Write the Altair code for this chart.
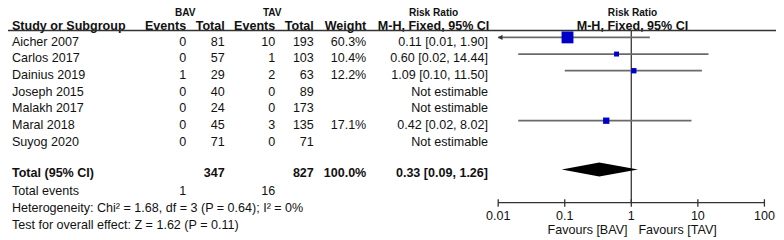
import altair as alt
import pandas as pd

# ---------------- data ----------------
studies = ["Aicher 2007", "Carlos 2017", "Dainius 2019", "Joseph 2015",
           "Malakh 2017", "Maral 2018", "Suyog 2020"]
bav_events = [0, 0, 1, 0, 0, 0, 0]
bav_total = [81, 57, 29, 40, 24, 45, 71]
tav_events = [10, 1, 2, 0, 0, 3, 0]
tav_total = [193, 103, 63, 89, 173, 135, 71]
weights = [60.3, 10.4, 12.2, None, None, 17.1, None]
rr = [0.11, 0.60, 1.09, None, None, 0.42, None]
ci_low = [0.01, 0.02, 0.10, None, None, 0.02, None]
ci_high = [1.90, 14.44, 11.50, None, None, 8.02, None]

total_bav = 347
total_tav = 827
total_weight = 100.0
total_rr = 0.33
total_low = 0.09
total_high = 1.26
total_events_bav = 1
total_events_tav = 16
heterogeneity = "Heterogeneity: Chi\u00b2 = 1.68, df = 3 (P = 0.64); I\u00b2 = 0%"
overall_effect = "Test for overall effect: Z = 1.62 (P = 0.11)"

tick_values = [0.01, 0.1, 1, 10, 100]
tick_labels = ["0.01", "0.1", "1", "10", "100"]
favours_left = "Favours [BAV]"
favours_right = "Favours [TAV]"

# ---------------- layout / style ----------------
FONT = "Liberation Sans"
TXT = "#111111"
FS = 12.7
FS_TOP = 10.2
ROW_HDR0, ROW_HDR1 = -1.723, -0.974
ROW_TOTAL, ROW_EVENTS, ROW_HET, ROW_TEST = 7.9, 8.97, 10.0, 11.02
FOREST_DY = -4.5
HDR_LINE_Y = 29.5
AXIS_Y = 203.5
COLS = {
    "study": (12, "left"), "be": (188, "right"), "bt": (227, "right"),
    "te": (278, "right"), "tt": (317, "right"), "wt": (370, "right"),
    "rr": (493, "right"), "bavhdr": (187, "center"), "tavhdr": (275, "center"),
    "rrhdr": (438, "center"), "plothdr": (639, "center"),
}

yscale = alt.Scale(domain=[0, 6], range=[41, 142], zero=False, nice=False)
xscale = alt.Scale(type="log", domain=[0.01, 100], range=[503.3, 772.3], nice=False)


def fmt_rr(r, lo, hi):
    if r is None:
        return "Not estimable"
    return f"{r:.2f} [{lo:.2f}, {hi:.2f}]"


# ---------------- table cells ----------------
cells = []
def add(row, col, text, bold=False, size=FS):
    cells.append({"row": row, "col": col, "text": text, "bold": bold, "size": size})

add(ROW_HDR0, "bavhdr", "BAV", True, FS_TOP)
add(ROW_HDR0, "tavhdr", "TAV", True, FS_TOP)
add(ROW_HDR0, "rrhdr", "Risk Ratio", True, FS_TOP)
add(ROW_HDR0, "plothdr", "Risk Ratio", True, FS_TOP)
add(ROW_HDR1, "study", "Study or Subgroup", True)
add(ROW_HDR1, "be", "Events", True)
add(ROW_HDR1, "bt", "Total", True)
add(ROW_HDR1, "te", "Events", True)
add(ROW_HDR1, "tt", "Total", True)
add(ROW_HDR1, "wt", "Weight", True)
add(ROW_HDR1, "rrhdr", "M-H, Fixed, 95% CI", True)
add(ROW_HDR1, "plothdr", "M-H, Fixed, 95% CI", True)
for i, s in enumerate(studies):
    add(i, "study", s)
    add(i, "be", str(bav_events[i]))
    add(i, "bt", str(bav_total[i]))
    add(i, "te", str(tav_events[i]))
    add(i, "tt", str(tav_total[i]))
    if weights[i] is not None:
        add(i, "wt", f"{weights[i]:.1f}%")
    add(i, "rr", fmt_rr(rr[i], ci_low[i], ci_high[i]))
add(ROW_TOTAL, "study", "Total (95% CI)", True)
add(ROW_TOTAL, "bt", str(total_bav), True)
add(ROW_TOTAL, "tt", str(total_tav), True)
add(ROW_TOTAL, "wt", f"{total_weight:.1f}%", True)
add(ROW_TOTAL, "rr", fmt_rr(total_rr, total_low, total_high), True)
add(ROW_EVENTS, "study", "Total events")
add(ROW_EVENTS, "be", str(total_events_bav))
add(ROW_EVENTS, "te", str(total_events_tav))
add(ROW_HET, "study", heterogeneity)
add(ROW_TEST, "study", overall_effect)
cells_df = pd.DataFrame(cells)

layers = []
for (col, bold, size), sub in cells_df.groupby(["col", "bold", "size"]):
    x, align = COLS[col]
    layers.append(
        alt.Chart(sub).mark_text(
            align=align, baseline="middle", font=FONT, fontSize=float(size),
            fontWeight="bold" if bold else "normal", color=TXT,
        ).encode(
            x=alt.value(x),
            y=alt.Y("row:Q", scale=yscale, axis=None),
            text="text:N",
        )
    )

# ---------------- forest plot ----------------
one = pd.DataFrame({"a": [0]})
# header rule
layers.append(alt.Chart(one).mark_rule(color="#333333", strokeWidth=1.5).encode(
    x=alt.value(0), x2=alt.value(784), y=alt.value(HDR_LINE_Y)))

# line of no effect
layers.append(alt.Chart(pd.DataFrame({"v": [1.0]})).mark_rule(color="#444444", strokeWidth=1.4).encode(
    x=alt.X("v:Q", scale=xscale, axis=None), y=alt.value(HDR_LINE_Y), y2=alt.value(AXIS_Y)))

forest = pd.DataFrame({"row": list(range(len(studies))), "rr": rr, "lo": ci_low,
                       "hi": ci_high, "w": weights}).dropna()
forest["lo_c"] = forest["lo"].clip(lower=0.01)

layers.append(alt.Chart(forest).mark_rule(color="#6a6a6a", strokeWidth=1.8, yOffset=FOREST_DY).encode(
    x=alt.X("lo_c:Q", scale=xscale, axis=None), x2="hi:Q",
    y=alt.Y("row:Q", scale=yscale, axis=None)))

arrows = forest[forest["lo"] <= 0.01]
layers.append(alt.Chart(arrows).mark_point(shape="triangle-left", filled=True, size=30,
                                           color="#333333", opacity=1, xOffset=2, yOffset=FOREST_DY).encode(
    x=alt.X("lo_c:Q", scale=xscale, axis=None),
    y=alt.Y("row:Q", scale=yscale, axis=None)))

layers.append(alt.Chart(forest).mark_square(color="#0000c8", opacity=1, yOffset=FOREST_DY).encode(
    x=alt.X("rr:Q", scale=xscale, axis=None),
    y=alt.Y("row:Q", scale=yscale, axis=None),
    size=alt.Size("w:Q", scale=alt.Scale(domain=[0, 60.3], range=[0, 144]), legend=None)))

# diamond for the pooled estimate
half = 7 / 16.8
diamond = pd.DataFrame({
    "x": [total_low, total_rr, total_high],
    "y": [ROW_TOTAL, ROW_TOTAL - half, ROW_TOTAL],
    "y2": [ROW_TOTAL, ROW_TOTAL + half, ROW_TOTAL],
})
layers.append(alt.Chart(diamond).mark_area(color="#000000", opacity=1, yOffset=-4, y2Offset=-4).encode(
    x=alt.X("x:Q", scale=xscale, axis=None),
    y=alt.Y("y:Q", scale=yscale, axis=None), y2="y2:Q"))

# axis
ticks_df = pd.DataFrame({"v": tick_values, "label": tick_labels})
layers.append(alt.Chart(pd.DataFrame({"a": [tick_values[0]], "b": [tick_values[-1]]})).mark_rule(
    color="#333333", strokeWidth=1.3).encode(
    x=alt.X("a:Q", scale=xscale, axis=None), x2="b:Q", y=alt.value(AXIS_Y)))
layers.append(alt.Chart(ticks_df).mark_rule(color="#333333", strokeWidth=1.3).encode(
    x=alt.X("v:Q", scale=xscale, axis=None), y=alt.value(AXIS_Y - 3.5), y2=alt.value(AXIS_Y + 4)))
layers.append(alt.Chart(ticks_df).mark_text(font=FONT, fontSize=FS, color=TXT, baseline="middle").encode(
    x=alt.X("v:Q", scale=xscale, axis=None), y=alt.value(216.5), text="label:N"))

fav = pd.DataFrame({"l": [favours_left], "r": [favours_right]})
layers.append(alt.Chart(fav).mark_text(font=FONT, fontSize=FS, color=TXT, baseline="middle", align="right").encode(
    x=alt.value(634), y=alt.value(231.5), text="l:N"))
layers.append(alt.Chart(fav).mark_text(font=FONT, fontSize=FS, color=TXT, baseline="middle", align="left").encode(
    x=alt.value(645), y=alt.value(231.5), text="r:N"))

chart = alt.layer(*layers).properties(
    width=784, height=203,
    padding={"left": -8, "top": -8, "right": 0, "bottom": 37},
    autosize=alt.AutoSizeParams(type="none"),
    background="white",
).configure_view(stroke=None)

chart.save("out.html", embed_options={"renderer": "svg", "actions": False})
